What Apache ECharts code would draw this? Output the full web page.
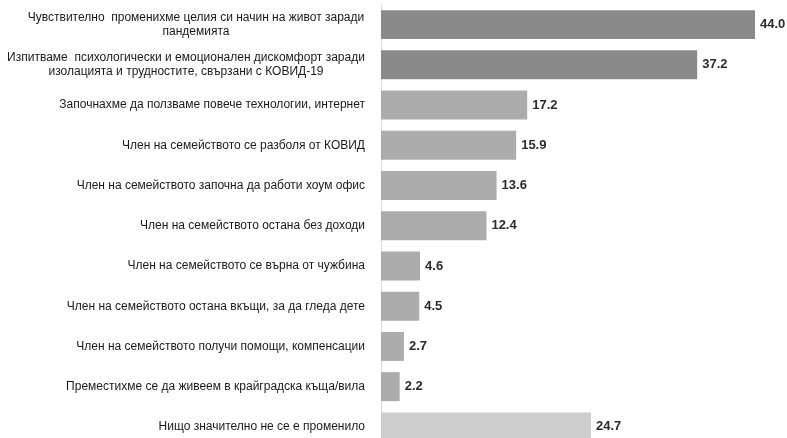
<!DOCTYPE html>
<html>
<head>
<meta charset="utf-8">
<script src="https://cdn.jsdelivr.net/npm/echarts@6/dist/echarts.min.js"></script>
<style>
  html, body { margin: 0; padding: 0; background: #fff; }
  #chart { width: 787px; height: 438px; }
</style>
</head>
<body>
<div id="chart"></div>
<script>
// Survey answers: how households changed during the pandemic (%)
const categories = [
  'Чувствително  променихме целия си начин на живот заради\nпандемията',
  'Изпитваме  психологически и емоционален дискомфорт заради\nизолацията и трудностите, свързани с КОВИД-19',
  'Започнахме да ползваме повече технологии, интернет',
  'Член на семейството се разболя от КОВИД',
  'Член на семейството започна да работи хоум офис',
  'Член на семейството остана без доходи',
  'Член на семейството се върна от чужбина',
  'Член на семейството остана вкъщи, за да гледа дете',
  'Член на семейството получи помощи, компенсации',
  'Преместихме се да живеем в крайградска къща/вила',
  'Нищо значително не се е променило'
];
const values = [44.0, 37.2, 17.2, 15.9, 13.6, 12.4, 4.6, 4.5, 2.7, 2.2, 24.7];
// answer group per row: psychological impact, concrete changes, no change
const groups = ['impact', 'impact', 'change', 'change', 'change', 'change', 'change', 'change', 'change', 'change', 'none'];

const groupColor = { impact: '#8a8a8a', change: '#acacac', none: '#cdcdcd' };

const chart = echarts.init(document.getElementById('chart'), null, { renderer: 'canvas' });

const font = '"Liberation Sans", Arial, sans-serif';
const labelBase = { fontFamily: font, fontSize: 12, color: '#1a1a1a', lineHeight: 14 };

// two-line labels are centred inside a block as wide as their longest line
const blockWidth = [338, 358];

chart.setOption({
  animation: false,
  backgroundColor: '#ffffff',
  // the plot runs slightly past the bottom edge, so the last bar is cut off
  grid: {
    left: 381, width: 408, top: 4.5, height: 442.5,
    containLabel: false,
    outerBoundsMode: 'none'
  },
  xAxis: {
    type: 'value',
    min: 0,
    max: 48,
    show: false
  },
  yAxis: {
    type: 'category',
    inverse: true,
    data: categories,
    axisLine: { show: true, lineStyle: { color: '#dcdcdc', width: 1 } },
    axisTick: { show: false },
    splitLine: { show: false },
    axisLabel: {
      margin: 16,
      align: 'right',
      formatter: function (v) {
        const lines = v.split('\n');
        if (lines.length === 1) return '{s|' + v + '}';
        const key = 'm' + categories.indexOf(v);
        return lines.map(l => '{' + key + '|' + l + '}').join('\n');
      },
      rich: {
        s: labelBase,
        m0: Object.assign({}, labelBase, { width: blockWidth[0], align: 'center' }),
        m1: Object.assign({}, labelBase, { width: blockWidth[1], align: 'center' })
      }
    }
  },
  series: [{
    type: 'bar',
    data: values.map((v, i) => ({ value: v, itemStyle: { color: groupColor[groups[i]] } })),
    barCategoryGap: '28%',
    label: {
      show: true,
      position: 'right',
      distance: 5,
      fontFamily: font,
      fontSize: 13,
      fontWeight: 'bold',
      color: '#2b2b2b',
      formatter: p => p.value.toFixed(1)
    }
  }]
});
</script>
</body>
</html>
